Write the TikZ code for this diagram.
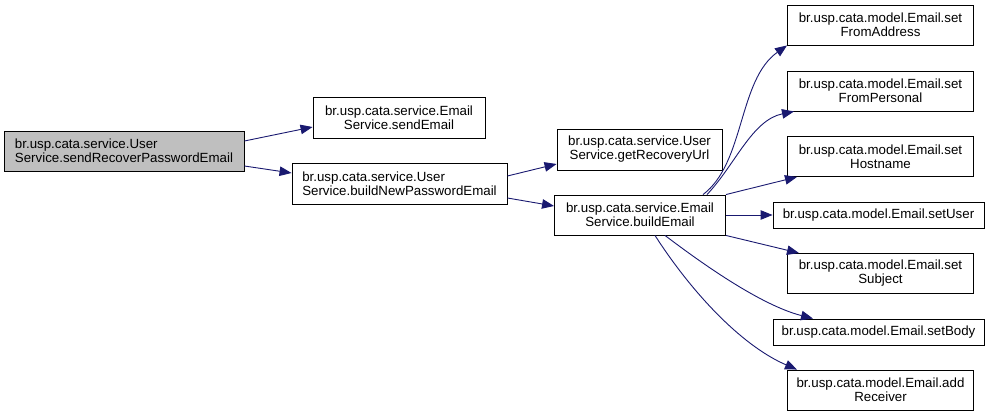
\documentclass[tikz,border=0pt]{standalone}
\usepackage{fontspec}
\setmainfont{Liberation Sans}
\usetikzlibrary{arrows.meta}
\definecolor{edgeblue}{HTML}{191970}
\definecolor{rootgray}{HTML}{BFBFBF}
\begin{document}
\begin{tikzpicture}[x=1pt,y=-1pt,
  box/.style={draw=black,line width=0.9pt,inner sep=0pt,font=\fontsize{13.3}{14}\selectfont,align=center},
  lbox/.style={box,align=left},
  call/.style={draw=edgeblue,line width=0.9pt,-{Triangle[length=12pt,width=9.5pt]}}]
\useasboundingbox (0,0) rectangle (993,417);
\node[lbox,fill=rootgray,minimum width=240pt,minimum height=40pt] (root) at (124,151) {br.usp.cata.service.User\\Service.sendRecoverPasswordEmail};
\node[box,minimum width=172pt,minimum height=41pt] (send) at (399,117.5) {br.usp.cata.service.Email\\Service.sendEmail};
\node[lbox,minimum width=215pt,minimum height=41pt] (build) at (399.5,184) {br.usp.cata.service.User\\Service.buildNewPasswordEmail};
\node[box,minimum width=165pt,minimum height=41pt] (url) at (639.5,149.5) {br.usp.cata.service.User\\Service.getRecoveryUrl};
\node[box,minimum width=171pt,minimum height=40pt] (be) at (640,215) {br.usp.cata.service.Email\\Service.buildEmail};
\node[box,minimum width=186pt,minimum height=40pt] (from) at (880.5,25) {br.usp.cata.model.Email.set\\FromAddress};
\node[box,minimum width=186pt,minimum height=40pt] (pers) at (880.5,91) {br.usp.cata.model.Email.set\\FromPersonal};
\node[box,minimum width=186pt,minimum height=40pt] (host) at (880.5,156.5) {br.usp.cata.model.Email.set\\Hostname};
\node[box,minimum width=211pt,minimum height=26pt] (user) at (878.5,215) {br.usp.cata.model.Email.setUser};
\node[box,minimum width=186pt,minimum height=40pt] (subj) at (880.5,273.5) {br.usp.cata.model.Email.set\\Subject};
\node[box,minimum width=211pt,minimum height=26pt] (body) at (878.5,332) {br.usp.cata.model.Email.setBody};
\node[box,minimum width=186pt,minimum height=40pt] (recv) at (880.5,390) {br.usp.cata.model.Email.add\\Receiver};
\draw[call] (root.east |- 0,141) -- (send.west |- 0,127);
\draw[call] (root.east |- 0,166) -- (build.west |- 0,173);
\draw[call] (build.east |- 0,176) -- (url.west |- 0,164);
\draw[call] (build.east |- 0,198) -- (be.west |- 0,206);
\draw[call] (be.north -| 703,0) .. controls (745,163) and (738,80) .. (from.south west);
\draw[call] (be.north -| 707,0) .. controls (735,165) and (752,120) .. (pers.south west -| 794,0);
\draw[call] (be.north east) -- (host.south west -| 797,0);
\draw[call] (be.east) -- (user.west);
\draw[call] (be.south east) -- (subj.north west -| 799,0);
\draw[call] (be.south -| 665,0) .. controls (700,262) and (760,305) .. (body.north west -| 813,0);
\draw[call] (be.south -| 655,0) .. controls (690,290) and (740,345) .. (recv.north west -| 797,0);
\end{tikzpicture}
\end{document}
